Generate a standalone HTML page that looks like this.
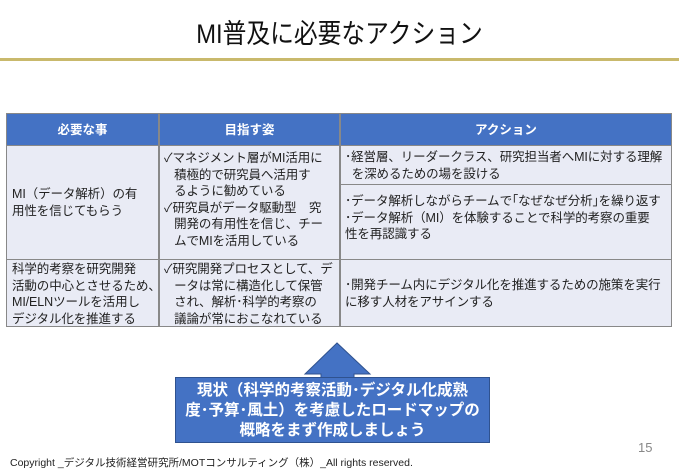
<!DOCTYPE html>
<html><head><meta charset="utf-8"><style>
body{margin:0;width:679px;height:470px;background:#fff;position:relative;overflow:hidden;font-family:"Liberation Sans","Noto Sans CJK JP",sans-serif;color:#222}
.a{position:absolute}
.t{font-size:12.5px;line-height:16.5px;white-space:nowrap;letter-spacing:-0.1px}
.h{background:#4472c4;color:#fff;font-weight:bold;font-size:12.5px;text-align:center;line-height:32px}
.c{background:#e9ebf5}
</style></head><body>
<div class="a" style="left:0;top:17px;width:679px;text-align:center;font-size:27px;color:#111;transform:scaleX(0.88);line-height:34px">MI普及に必要なアクション</div>
<div class="a" style="left:0;top:58px;width:679px;height:3px;background:#c9b96c"></div>

<div class="a" style="left:6px;top:113px;width:666px;height:214px;background:#888"></div>
<div class="a h" style="left:7px;top:114px;width:151px;height:31px">必要な事</div>
<div class="a h" style="left:160px;top:114px;width:179px;height:31px">目指す姿</div>
<div class="a h" style="left:341px;top:114px;width:330px;height:31px">アクション</div>

<div class="a c t" style="left:7px;top:146px;width:151px;height:113px;padding:0 0 0 5px;box-sizing:border-box;display:flex;align-items:center">MI（データ解析）の有<br>用性を信じてもらう</div>
<div class="a c t" style="left:160px;top:146px;width:179px;height:113px;padding:4px 0 0 4px;box-sizing:border-box">✓マネジメント層がMI活用に<br>&nbsp;&nbsp;&nbsp;積極的で研究員へ活用す<br>&nbsp;&nbsp;&nbsp;るように勧めている<br>✓研究員がデータ駆動型　究<br>&nbsp;&nbsp;&nbsp;開発の有用性を信じ、チー<br>&nbsp;&nbsp;&nbsp;ムでMIを活用している</div>
<div class="a c t" style="left:341px;top:146px;width:330px;height:38px;padding:3px 0 0 4px;box-sizing:border-box">･経営層、リーダークラス、研究担当者へMIに対する理解<br>&nbsp;&nbsp;を深めるための場を設ける</div>
<div class="a c t" style="left:341px;top:185px;width:330px;height:74px;padding:8px 0 0 4px;box-sizing:border-box">･データ解析しながらチームで｢なぜなぜ分析｣を繰り返す<br>･データ解析（MI）を体験することで科学的考察の重要<br>性を再認識する</div>

<div class="a c t" style="left:7px;top:260px;width:151px;height:66px;padding:1px 0 0 5px;box-sizing:border-box">科学的考察を研究開発<br>活動の中心とさせるため、<br>MI/ELNツールを活用し<br>デジタル化を推進する</div>
<div class="a c t" style="left:160px;top:260px;width:179px;height:66px;padding:1px 0 0 4px;box-sizing:border-box">✓研究開発プロセスとして、デ<br>&nbsp;&nbsp;&nbsp;ータは常に構造化して保管<br>&nbsp;&nbsp;&nbsp;され、解析･科学的考察の<br>&nbsp;&nbsp;&nbsp;議論が常におこなれている</div>
<div class="a c t" style="left:341px;top:260px;width:330px;height:66px;padding:17px 0 0 4px;box-sizing:border-box">･開発チーム内にデジタル化を推進するための施策を実行<br>に移す人材をアサインする</div>

<svg class="a" style="left:0;top:0" width="679" height="470">
<polygon points="337,343 305,374 321,374 321,380 354,380 354,374 370,374" fill="#4472c4" stroke="#2f528f" stroke-width="1"/>
</svg>
<div class="a" style="left:175px;top:377px;width:315px;height:66px;background:#4472c4;border:1px solid #2f528f;box-sizing:border-box;color:#fff;font-weight:bold;font-size:15.5px;line-height:20px;text-align:center;padding-top:3px;white-space:nowrap">現状（科学的考察活動･デジタル化成熟<br>度･予算･風土）を考慮したロードマップの<br>概略をまず作成しましょう</div>

<div class="a" style="left:638px;top:440px;font-size:13px;color:#888">15</div>
<div class="a" style="left:10px;top:455px;font-size:10.5px;color:#222;white-space:nowrap">Copyright _デジタル技術経営研究所/MOTコンサルティング（株）_All rights reserved.</div>
</body></html>
